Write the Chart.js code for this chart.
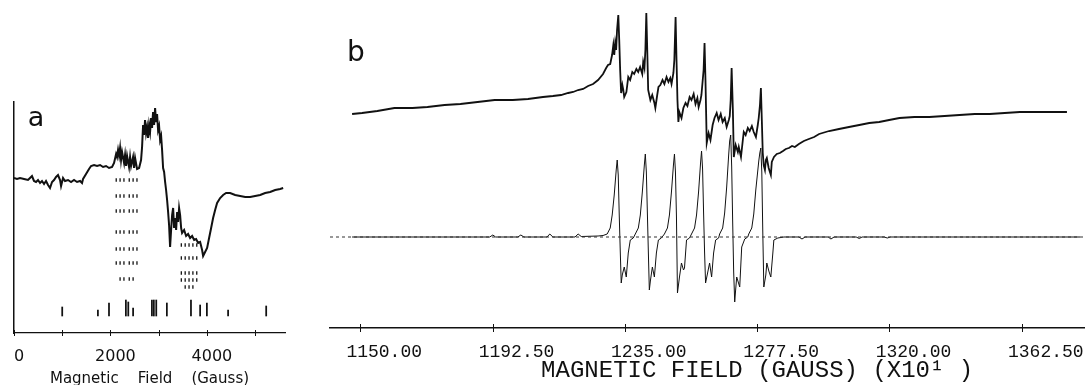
<!DOCTYPE html>
<html>
<head>
<meta charset="utf-8">
<script src="https://cdn.jsdelivr.net/npm/chart.js@4.4.1/dist/chart.umd.min.js"></script>
<style>
  html, body { margin: 0; padding: 0; background: #fff; }
  #wrap { position: relative; width: 1085px; height: 385px; overflow: hidden; background: #fff; }
  #ca { position: absolute; left: 0; top: 0; }
  #cb { position: absolute; left: 300px; top: 0; }
</style>
</head>
<body>
<div id="wrap">
  <canvas id="ca" width="300" height="385"></canvas>
  <canvas id="cb" width="785" height="385"></canvas>
</div>
<script>
// ---------- Panel a: wide-sweep spectrum, field in gauss, signal in arbitrary units ----------
const traceA = [
  [0,0.0],[62,-0.1],[125,0.0],[208,-0.1],[290,-0.2],[332,0.0],[373,0.2],[415,-0.3],[457,-0.4],[498,-0.2],
  [540,-0.5],[581,-0.3],[623,-0.6],[664,-0.3],[706,-0.7],[747,-1.0],[789,-0.4],[830,-0.2],[872,0.1],[913,0.3],
  [955,-0.2],[976,-0.8],[1017,0.0],[1058,-0.3],[1121,-0.2],[1183,-0.4],[1245,-0.2],[1307,-0.4],[1370,-0.3],[1411,-0.5],
  [1432,-0.1],[1494,0.4],[1556,0.9],[1598,1.2],[1660,1.3],[1722,1.2],[1785,1.3],[1847,1.1],[1909,1.2],[1971,1.0],
  [2034,1.1],[2075,1.5],[2117,2.4],[2137,2.1],[2158,2.8],[2179,2.2],[2200,3.0],[2220,1.8],[2241,2.6],[2283,1.5],
  [2303,2.3],[2324,1.2],[2345,2.2],[2386,1.1],[2407,2.1],[2428,1.2],[2469,2.1],[2490,1.0],[2511,2.0],[2552,0.9],
  [2594,1.0],[2635,1.8],[2656,3.1],[2677,5.3],[2697,4.3],[2718,5.8],[2739,4.5],[2760,5.1],[2780,4.0],[2801,5.3],
  [2822,4.6],[2843,6.0],[2863,5.0],[2884,6.6],[2905,5.3],[2926,7.0],[2946,5.6],[2967,6.4],[2988,4.8],[3009,5.2],
  [3030,3.8],[3051,4.2],[3071,2.8],[3092,1.0],[3113,0.6],[3134,-0.4],[3154,-1.2],[3175,-2.2],[3196,-3.4],[3216,-4.7],
  [3237,-6.9],[3258,-5.2],[3279,-3.7],[3300,-3.0],[3320,-5.0],[3341,-4.0],[3362,-5.2],[3383,-3.4],[3403,-4.4],[3424,-3.0],
  [3445,-3.7],[3466,-5.0],[3486,-5.5],[3528,-5.2],[3569,-5.8],[3611,-5.6],[3652,-6.0],[3694,-5.8],[3735,-6.2],[3777,-6.1],
  [3818,-6.5],[3860,-6.4],[3901,-7.2],[3922,-7.8],[3963,-7.4],[4005,-7.0],[4046,-6.0],[4088,-5.0],[4129,-4.0],[4171,-3.2],
  [4212,-2.5],[4275,-2.0],[4337,-1.7],[4399,-1.5],[4482,-1.5],[4586,-1.7],[4690,-1.8],[4794,-1.9],[4897,-1.9],[5001,-1.8],
  [5105,-1.7],[5208,-1.5],[5312,-1.4],[5416,-1.2],[5520,-1.1],[5582,-1.0]
];

// dotted line-position marks below the two spectral regions
const markColsLow  = [2120, 2200, 2280, 2390, 2470, 2550];
const markRowsLow  = [-0.2, -1.8, -3.3, -5.4, -7.1, -8.5];
const markTailLow  = [[2200,-10.1],[2280,-10.1],[2390,-10.1],[2470,-10.1]];
const markColsHigh = [3470, 3550, 3630, 3710, 3790];
const markRowsHigh = [-6.7, -8.0, -9.5, -10.2];
const markTailHigh = [[3550,-10.9],[3630,-10.9],[3710,-10.9]];

// stick spectrum: [field (G), top of stick]; all sticks rise from stickBase
const stickBase = -13.8;
const sticksA = [
  [1000,-12.9],[1740,-13.2],[1970,-12.5],[2320,-12.2],[2370,-12.4],[2470,-13.0],[2860,-12.2],[2900,-12.2],
  [2950,-12.2],[3170,-12.5],[3670,-12.2],[3860,-12.7],[4000,-12.5],[4440,-13.2],[5230,-12.8]
];

const aTicks = [0, 1000, 2000, 3000, 4000, 5000];
const aTickLabels = ['0', '', '2000', '', '4000', ''];
const aAxisTitle = 'Magnetic    Field    (Gauss)';

// ---------- Panel b: narrow sweep, field in units of 10 G ----------
const traceB = [
  [1147.4,12.3],[1150.6,12.4],[1155.5,12.6],[1161.0,12.9],[1166.8,12.9],[1171.6,13.0],[1177.1,13.2],[1182.2,13.3],
  [1187.7,13.5],[1193.2,13.7],[1199.0,13.7],[1203.9,13.8],[1208.7,14.0],[1211.9,14.1],[1214.5,14.2],[1216.8,14.4],
  [1218.4,14.5],[1220.0,14.7],[1221.6,14.8],[1223.2,15.1],[1224.8,15.3],[1226.4,15.7],[1228.0,16.3],[1229.0,16.9],
  [1229.6,17.2],[1230.3,17.3],[1230.9,18.2],[1231.3,19.2],[1231.6,18.2],[1231.9,19.4],[1232.2,18.7],[1232.5,20.7],
  [1232.9,22.2],[1233.2,19.7],[1233.5,16.7],[1233.8,14.4],[1234.2,15.2],[1234.5,14.7],[1234.8,14.0],[1235.5,14.5],
  [1236.1,16.0],[1236.7,15.7],[1237.4,16.5],[1238.0,16.3],[1238.7,16.8],[1239.3,16.5],[1239.9,17.0],[1240.6,16.3],
  [1240.9,17.5],[1241.3,16.9],[1241.6,18.7],[1241.9,22.4],[1242.2,18.7],[1242.5,14.7],[1243.2,13.7],[1243.8,14.2],
  [1244.5,13.4],[1244.8,12.9],[1245.4,14.2],[1245.8,15.0],[1246.4,15.2],[1247.1,15.7],[1247.7,15.3],[1248.4,16.0],
  [1249.0,15.5],[1249.6,15.9],[1250.0,15.3],[1250.6,16.4],[1250.9,17.7],[1251.3,22.0],[1251.6,17.7],[1251.9,13.7],
  [1252.2,11.5],[1252.5,12.5],[1253.2,11.9],[1253.8,12.9],[1254.5,13.4],[1255.1,13.1],[1255.8,14.0],[1256.4,13.7],
  [1257.1,14.3],[1257.7,13.3],[1258.3,13.9],[1258.7,13.0],[1259.3,13.7],[1259.6,14.2],[1260.3,16.7],[1260.6,19.4],
  [1260.9,15.7],[1261.3,9.4],[1261.9,10.4],[1262.5,9.7],[1263.2,11.2],[1263.8,11.9],[1264.5,12.4],[1265.1,11.7],
  [1265.8,12.3],[1266.4,11.5],[1267.1,11.9],[1267.7,11.0],[1268.4,11.7],[1268.7,12.1],[1269.0,13.7],[1269.3,16.9],
  [1269.7,12.7],[1270.0,8.0],[1270.6,9.2],[1271.3,8.5],[1271.6,9.0],[1272.3,8.0],[1272.9,9.7],[1273.2,10.5],
  [1273.8,10.2],[1274.5,10.9],[1275.1,10.6],[1275.8,11.1],[1276.4,10.5],[1277.1,10.0],[1277.7,11.2],[1278.0,11.9],
  [1278.4,13.2],[1278.7,14.9],[1279.0,11.7],[1279.3,8.4],[1279.6,7.2],[1280.0,6.7],[1280.3,7.7],[1280.6,7.9],
  [1281.2,6.9],[1281.9,6.2],[1282.2,7.5],[1282.9,8.0],[1283.8,8.3],[1284.8,8.4],[1285.8,8.6],[1286.7,8.8],
  [1287.7,8.9],[1288.7,9.1],[1289.6,9.0],[1290.9,9.3],[1292.5,9.6],[1294.1,9.8],[1295.8,10.0],[1297.4,10.3],
  [1300.6,10.6],[1303.8,10.8],[1307.0,11.0],[1310.3,11.2],[1313.5,11.4],[1316.7,11.5],[1319.9,11.7],[1323.2,11.9],
  [1328.0,12.0],[1332.8,12.0],[1337.7,12.1],[1342.5,12.2],[1347.4,12.3],[1352.2,12.3],[1357.0,12.4],[1361.9,12.5],
  [1366.7,12.5],[1371.5,12.5],[1377.0,12.5]
];

// simulated first-derivative spectrum (six-line pattern)
const simB = [
  [1147.4,0],[1161.9,0],[1184.5,0],[1191.6,0],[1192.6,0.2],[1193.5,0],[1200.6,0],[1201.6,0.2],[1202.6,0],
  [1210.0,0],[1210.9,0.3],[1211.9,0],[1219.0,0],[1220.0,0.3],[1221.0,0.05],[1226.4,0.1],[1228.0,0.15],
  [1229.33,0.3],[1230.30,0.9],[1230.94,2.2],[1231.59,4.2],[1232.23,6.7],[1232.55,7.7],[1232.88,6.2],[1233.20,2.2],
  [1233.52,-1.3],[1233.84,-4.6],[1234.17,-3.8],[1234.81,-3.0],[1235.46,-4.0],[1236.10,-1.6],[1236.75,-0.3],[1237.71,-0.1],
  [1238.36,0.3],[1239.33,0.9],[1239.97,2.2],[1240.62,4.5],[1241.26,7.2],[1241.58,8.3],[1241.91,6.5],[1242.23,2.5],
  [1242.55,-1.5],[1242.87,-5.3],[1243.20,-4.4],[1243.84,-3.0],[1244.49,-4.0],[1245.13,-1.6],[1245.78,-0.3],[1246.74,-0.1],
  [1247.71,0.3],[1248.68,0.9],[1249.32,2.2],[1249.97,4.5],[1250.61,7.2],[1250.94,8.3],[1251.26,6.5],[1251.58,2.0],
  [1251.90,-5.6],[1252.55,-4.0],[1253.19,-2.6],[1253.84,-3.3],[1254.16,-3.1],[1254.81,-0.3],[1255.77,-0.1],
  [1256.42,0.3],[1257.39,0.9],[1258.03,2.2],[1258.68,4.5],[1259.32,7.4],[1259.64,8.6],[1259.97,6.8],[1260.29,2.5],
  [1260.61,-1.5],[1260.93,-4.6],[1261.58,-3.6],[1262.22,-2.6],[1262.87,-4.0],[1263.51,-1.6],[1264.16,-0.3],[1265.13,-0.1],
  [1265.45,0.3],[1266.42,0.9],[1267.06,2.4],[1267.71,5.0],[1268.35,8.2],[1268.67,9.6],[1269.00,10.2],[1269.32,7.0],
  [1269.64,1.5],[1269.96,-3.5],[1270.29,-6.5],[1270.61,-5.2],[1270.93,-4.0],[1271.90,-5.0],[1272.54,-1.0],[1273.51,-0.2],[1274.48,0],
  [1274.80,0.3],[1275.77,0.9],[1276.41,2.3],[1277.06,4.7],[1278.02,7.6],[1278.35,8.4],[1278.67,8.9],[1278.99,6.5],
  [1279.31,0.5],[1279.64,-5.0],[1280.28,-3.8],[1280.60,-2.6],[1281.25,-3.4],[1281.89,-4.0],[1282.54,-1.6],[1282.86,-0.3],
  [1284.15,-0.1],[1286.09,0],
  [1290.9,0],[1291.9,-0.2],[1292.9,0],[1300.3,0],[1301.2,-0.2],[1302.2,0],[1309.3,0],[1310.3,-0.15],[1311.2,0],
  [1318.3,0],[1319.3,-0.1],[1320.3,0],[1339.3,0],[1361.9,0],[1381.2,0]
];

const zeroLineB = [[1140.3, 0], [1382.8, 0]];
const bTicks = [1150, 1192.5, 1235, 1277.5, 1320, 1362.5];
const bAxisTitle = 'MAGNETIC FIELD (GAUSS) (X10\u00B9 )';
const bTitleAt = 1277.5;

const INK = '#111';
const pts = arr => arr.map(([x, y]) => ({ x, y }));

// tick marks that cross the axis line (plotter style)
const crossTicks = {
  id: 'crossTicks',
  afterDraw(chart, args, opts) {
    const s = chart.scales.x, ctx = chart.ctx;
    ctx.save();
    ctx.strokeStyle = INK;
    ctx.lineWidth = 1;
    s.ticks.forEach(t => {
      const px = Math.round(s.getPixelForValue(t.value)) + 0.5;
      ctx.beginPath();
      ctx.moveTo(px, s.top - opts.up);
      ctx.lineTo(px, s.top + opts.down);
      ctx.stroke();
    });
    ctx.restore();
  }
};

// panel letter and free captions
const panelText = {
  id: 'panelText',
  afterDraw(chart, args, opts) {
    const ctx = chart.ctx;
    ctx.save();
    ctx.fillStyle = INK;
    ctx.textAlign = 'center';
    ctx.textBaseline = 'middle';
    (opts.items || []).forEach(it => {
      ctx.font = it.font;
      let x = it.x, y = it.y;
      if (it.atValue !== undefined) {
        const s = chart.scales.x;
        x = s.getPixelForValue(it.atValue);
        y = s.top + it.below;
      }
      ctx.fillText(it.text, x, y);
    });
    ctx.restore();
  }
};

const marks = [];
markRowsLow.forEach(y => markColsLow.forEach(x => marks.push({ x, y })));
markTailLow.forEach(([x, y]) => marks.push({ x, y }));
markRowsHigh.forEach(y => markColsHigh.forEach(x => marks.push({ x, y })));
markTailHigh.forEach(([x, y]) => marks.push({ x, y }));

new Chart(document.getElementById('ca'), {
  type: 'line',
  data: {
    datasets: [
      { type: 'line', data: pts(traceA), borderColor: INK, borderWidth: 2, pointRadius: 0, tension: 0 },
      { type: 'scatter', data: marks, pointStyle: 'line', rotation: 90, pointRadius: 1.7,
        borderColor: INK, borderWidth: 1.3, showLine: false },
      { type: 'bar', data: sticksA.map(([x, t]) => ({ x, y: [stickBase, t] })),
        backgroundColor: INK, borderWidth: 0, barThickness: 1.1, grouped: false }
    ]
  },
  options: {
    responsive: false,
    animation: false,
    events: [],
    layout: { padding: { left: 14, right: 15, top: 102, bottom: 0 } },
    plugins: {
      legend: { display: false },
      tooltip: { enabled: false },
      crossTicks: { up: 3, down: 3 },
      panelText: { items: [ { text: 'a', x: 36, y: 119, font: "27px 'DejaVu Sans'" } ] }
    },
    scales: {
      x: {
        type: 'linear', min: 0, max: 5620, offset: false,
        afterBuildTicks: s => { s.ticks = aTicks.map(v => ({ value: v })); },
        afterFit: s => { s.height = 52; },
        grid: { display: false, offset: false },
        border: { display: true, color: INK, width: 1.2 },
        ticks: {
          callback: (v, i) => aTickLabels[i],
          font: { family: 'DejaVu Sans', size: 16 }, color: INK,
          padding: 6, labelOffset: 5, maxRotation: 0, autoSkip: false
        },
        title: {
          display: true, text: aAxisTitle, color: INK,
          font: { family: 'DejaVu Sans', size: 15, lineHeight: 0.8 },
          padding: { top: 0, bottom: 0 }
        }
      },
      y: {
        min: -15.5, max: 7.6,
        afterFit: s => { s.width = 0; },
        grid: { display: false },
        ticks: { display: false },
        border: { display: true, color: INK, width: 1.5 }
      }
    }
  },
  plugins: [crossTicks, panelText]
});

new Chart(document.getElementById('cb'), {
  type: 'line',
  data: {
    datasets: [
      { data: pts(zeroLineB), borderColor: '#333', borderWidth: 1, borderDash: [3, 3], pointRadius: 0 },
      { data: pts(simB), borderColor: INK, borderWidth: 1, pointRadius: 0, tension: 0 },
      { data: pts(traceB), borderColor: INK, borderWidth: 1.8, pointRadius: 0, tension: 0 }
    ]
  },
  options: {
    responsive: false,
    animation: false,
    events: [],
    layout: { padding: { left: 30, right: 0, top: 5, bottom: 0 } },
    plugins: {
      legend: { display: false },
      tooltip: { enabled: false },
      crossTicks: { up: 4, down: 4 },
      panelText: { items: [
        { text: 'b', x: 56, y: 54, font: "28px 'DejaVu Sans'" },
        { text: bAxisTitle, atValue: bTitleAt, below: 43, font: "24px 'Liberation Mono'" }
      ] }
    },
    scales: {
      x: {
        type: 'linear', min: 1140.3, max: 1382.8, offset: false,
        afterBuildTicks: s => { s.ticks = bTicks.map(v => ({ value: v })); },
        afterFit: s => { s.height = 57; },
        grid: { display: false },
        border: { display: true, color: INK, width: 1.5 },
        ticks: {
          callback: v => Number(v).toFixed(2),
          font: { family: 'Liberation Mono', size: 18 }, color: INK,
          padding: 5, labelOffset: 24, maxRotation: 0, autoSkip: false
        }
      },
      y: { display: false, min: -9.1, max: 23.2 }
    }
  },
  plugins: [crossTicks, panelText]
});
</script>
</body>
</html>
